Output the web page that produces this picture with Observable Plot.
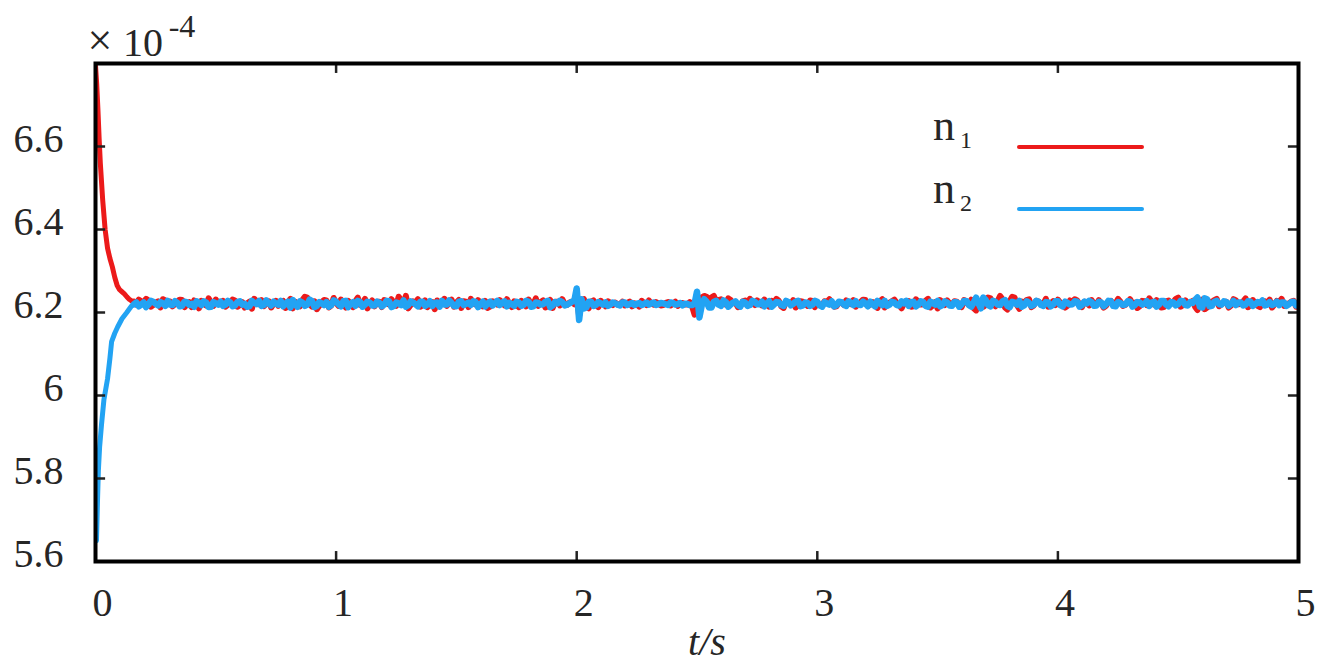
<!DOCTYPE html>
<html>
<head>
<meta charset="utf-8">
<script src="https://cdn.jsdelivr.net/npm/d3@7"></script>
<script src="https://cdn.jsdelivr.net/npm/@observablehq/plot@0.6"></script>
<style>
  html, body { margin: 0; padding: 0; background: #fff; }
  #chart { width: 1323px; height: 669px; }
</style>
</head>
<body>
<div id="chart"></div>
<script>
// ---- data (values in units of 1e-4) ----
const xTicks = [0, 1, 2, 3, 4, 5];
const xTickLabels = ["0", "1", "2", "3", "4", "5"];
const yTicks = [5.6, 5.8, 6.0, 6.2, 6.4, 6.6];
const yTickLabels = ["5.6", "5.8", "6", "6.2", "6.4", "6.6"];

// initial transient
const n1StartT = [0, 0.005, 0.01, 0.015, 0.02, 0.03, 0.04, 0.05, 0.06, 0.07, 0.08, 0.09, 0.10, 0.11, 0.12, 0.13, 0.14, 0.15];
const n1StartV = [6.795, 6.75, 6.69, 6.62, 6.56, 6.47, 6.40, 6.355, 6.33, 6.31, 6.285, 6.265, 6.255, 6.25, 6.245, 6.238, 6.232, 6.228];
const n2StartT = [0.004, 0.008, 0.012, 0.017, 0.025, 0.035, 0.05, 0.06, 0.067, 0.08, 0.092, 0.11, 0.13, 0.145, 0.15];
const n2StartV = [5.65, 5.74, 5.82, 5.875, 5.93, 5.99, 6.04, 6.09, 6.13, 6.15, 6.165, 6.185, 6.20, 6.212, 6.216];

// steady part: samples at t = 0.16, 0.18, ... 5.00 ("even") and t = 0.17, 0.19, ... 4.99 ("odd")
const evenStart = 0.16, oddStart = 0.17, sampleStep = 0.02;
const n1Even = [
  6.226, 6.231, 6.224, 6.229, 6.218, 6.227, 6.232, 6.221, 6.215, 6.226,
  6.230, 6.219, 6.213, 6.224, 6.228, 6.217, 6.225, 6.231, 6.222, 6.214,
  6.223, 6.229, 6.218, 6.212, 6.226, 6.233, 6.220, 6.215, 6.227, 6.221,
  6.216, 6.228, 6.224, 6.210, 6.219, 6.230, 6.236, 6.214, 6.208, 6.225,
  6.229, 6.217, 6.223, 6.231, 6.212, 6.220, 6.227, 6.218, 6.233, 6.222,
  6.215, 6.226, 6.230, 6.219, 6.224, 6.238, 6.221, 6.210, 6.227, 6.232,
  6.218, 6.213, 6.225, 6.229, 6.220, 6.216, 6.231, 6.224, 6.211, 6.226,
  6.233, 6.219, 6.222, 6.228, 6.214, 6.225, 6.230, 6.217, 6.221, 6.227,
  6.213, 6.224, 6.231, 6.220, 6.216, 6.229, 6.223, 6.211, 6.226, 6.232,
  6.218, 6.226, 6.245, 6.228, 6.214, 6.226, 6.219, 6.228, 6.215, 6.224,
  6.224, 6.220, 6.217, 6.226, 6.222, 6.214, 6.223, 6.229, 6.219, 6.222,
  6.218, 6.225, 6.221, 6.216, 6.223, 6.219, 6.214, 6.245, 6.236, 6.238,
  6.236, 6.226, 6.232, 6.219, 6.230, 6.224, 6.215, 6.229, 6.233, 6.218,
  6.225, 6.231, 6.214, 6.222, 6.228, 6.211, 6.224, 6.230, 6.219, 6.226,
  6.216, 6.228, 6.223, 6.218, 6.226, 6.221, 6.215, 6.224, 6.229, 6.220,
  6.214, 6.225, 6.230, 6.219, 6.223, 6.227, 6.212, 6.224, 6.231, 6.218,
  6.222, 6.228, 6.215, 6.226, 6.220, 6.233, 6.217, 6.210, 6.225, 6.229,
  6.219, 6.226, 6.213, 6.224, 6.231, 6.205, 6.227, 6.218, 6.234, 6.215,
  6.240, 6.212, 6.228, 6.236, 6.209, 6.224, 6.232, 6.217, 6.226, 6.221,
  6.214, 6.227, 6.231, 6.220, 6.216, 6.225, 6.229, 6.213, 6.224, 6.230,
  6.219, 6.223, 6.216, 6.228, 6.222, 6.226, 6.218, 6.232, 6.224, 6.215,
  6.227, 6.234, 6.219, 6.223, 6.213, 6.229, 6.225, 6.236, 6.218, 6.222,
  6.228, 6.206, 6.231, 6.212, 6.225, 6.233, 6.220, 6.226, 6.217, 6.229,
  6.221, 6.234, 6.218, 6.224, 6.213, 6.227, 6.231, 6.219, 6.225, 6.216,
  6.222, 6.228, 6.219
];
const n1Odd = [
  6.219, 6.227, 6.233, 6.214, 6.224, 6.212, 6.229, 6.226, 6.220, 6.231,
  6.213, 6.225, 6.229, 6.210, 6.221, 6.234, 6.216, 6.224, 6.228, 6.219,
  6.231, 6.214, 6.225, 6.222, 6.209, 6.227, 6.230, 6.223, 6.212, 6.228,
  6.224, 6.211, 6.233, 6.226, 6.215, 6.238, 6.220, 6.227, 6.216, 6.230,
  6.212, 6.235, 6.216, 6.224, 6.228, 6.213, 6.236, 6.222, 6.210, 6.229,
  6.226, 6.213, 6.223, 6.232, 6.216, 6.229, 6.240, 6.218, 6.223, 6.214,
  6.229, 6.224, 6.208, 6.220, 6.233, 6.225, 6.214, 6.230, 6.227, 6.213,
  6.222, 6.230, 6.215, 6.211, 6.227, 6.219, 6.224, 6.232, 6.213, 6.218,
  6.228, 6.215, 6.220, 6.234, 6.225, 6.212, 6.230, 6.226, 6.217, 6.221,
  6.224, 6.220, 6.192, 6.232, 6.210, 6.229, 6.213, 6.222, 6.227, 6.218,
  6.219, 6.226, 6.223, 6.215, 6.220, 6.228, 6.218, 6.221, 6.225, 6.217,
  6.223, 6.217, 6.226, 6.222, 6.219, 6.225, 6.195, 6.205, 6.240, 6.232,
  6.240, 6.230, 6.221, 6.234, 6.223, 6.213, 6.227, 6.220, 6.224, 6.229,
  6.217, 6.222, 6.228, 6.233, 6.215, 6.226, 6.219, 6.212, 6.227, 6.221,
  6.229, 6.213, 6.219, 6.227, 6.232, 6.214, 6.225, 6.218, 6.222, 6.230,
  6.220, 6.231, 6.216, 6.225, 6.211, 6.232, 6.218, 6.227, 6.223, 6.210,
  6.228, 6.214, 6.232, 6.219, 6.228, 6.212, 6.225, 6.230, 6.218, 6.221,
  6.227, 6.215, 6.230, 6.218, 6.210, 6.226, 6.214, 6.236, 6.221, 6.228,
  6.232, 6.207, 6.238, 6.218, 6.226, 6.230, 6.213, 6.228, 6.221, 6.233,
  6.222, 6.218, 6.224, 6.212, 6.229, 6.232, 6.219, 6.226, 6.217, 6.221,
  6.230, 6.212, 6.227, 6.220, 6.233, 6.216, 6.225, 6.221, 6.211, 6.228,
  6.218, 6.226, 6.230, 6.212, 6.227, 6.221, 6.233, 6.214, 6.229, 6.224,
  6.214, 6.224, 6.208, 6.226, 6.230, 6.215, 6.224, 6.212, 6.232, 6.220,
  6.227, 6.213, 6.230, 6.216, 6.225, 6.220, 6.212, 6.228, 6.233, 6.221,
  6.226, 6.214
];
const n2Even = [
  6.220, 6.215, 6.224, 6.219, 6.226, 6.217, 6.222, 6.228, 6.218, 6.223,
  6.216, 6.225, 6.221, 6.227, 6.218, 6.224, 6.214, 6.222, 6.226, 6.219,
  6.224, 6.217, 6.227, 6.221, 6.215, 6.223, 6.228, 6.218, 6.222, 6.226,
  6.219, 6.215, 6.226, 6.230, 6.214, 6.224, 6.219, 6.227, 6.216, 6.222,
  6.225, 6.218, 6.226, 6.215, 6.228, 6.221, 6.216, 6.225, 6.219, 6.224,
  6.217, 6.223, 6.219, 6.227, 6.216, 6.222, 6.229, 6.218, 6.224, 6.215,
  6.226, 6.220, 6.216, 6.224, 6.228, 6.219, 6.223, 6.215, 6.227, 6.221,
  6.218, 6.225, 6.220, 6.215, 6.226, 6.222, 6.218, 6.227, 6.223, 6.216,
  6.224, 6.219, 6.226, 6.215, 6.223, 6.220, 6.228, 6.217, 6.222, 6.225,
  6.219, 6.226, 6.258, 6.232, 6.212, 6.226, 6.218, 6.222, 6.224, 6.219,
  6.222, 6.217, 6.224, 6.220, 6.218, 6.223, 6.221, 6.219, 6.224, 6.220,
  6.222, 6.218, 6.223, 6.220, 6.217, 6.221, 6.218, 6.250, 6.218, 6.226,
  6.212, 6.228, 6.216, 6.225, 6.219, 6.227, 6.214, 6.224, 6.218, 6.226,
  6.220, 6.215, 6.227, 6.219, 6.224, 6.216, 6.225, 6.221, 6.228, 6.217,
  6.223, 6.219, 6.226, 6.214, 6.222, 6.227, 6.218, 6.225, 6.216, 6.223,
  6.227, 6.218, 6.222, 6.226, 6.215, 6.223, 6.228, 6.219, 6.224, 6.217,
  6.222, 6.216, 6.226, 6.219, 6.225, 6.214, 6.223, 6.228, 6.218, 6.224,
  6.216, 6.225, 6.220, 6.228, 6.214, 6.236, 6.210, 6.230, 6.215, 6.226,
  6.218, 6.230, 6.213, 6.224, 6.228, 6.217, 6.223, 6.219, 6.226, 6.216,
  6.224, 6.219, 6.227, 6.215, 6.223, 6.220, 6.226, 6.218, 6.222, 6.225,
  6.217, 6.224, 6.220, 6.227, 6.215, 6.223, 6.219, 6.226, 6.218, 6.224,
  6.221, 6.216, 6.226, 6.219, 6.228, 6.215, 6.224, 6.220, 6.227, 6.217,
  6.223, 6.236, 6.212, 6.232, 6.216, 6.228, 6.219, 6.225, 6.221, 6.218,
  6.224, 6.219, 6.226, 6.220, 6.223, 6.217, 6.225, 6.221, 6.218, 6.224,
  6.220, 6.226, 6.222
];
const n2Odd = [
  6.224, 6.219, 6.213, 6.228, 6.221, 6.225, 6.216, 6.219, 6.227, 6.215,
  6.226, 6.218, 6.214, 6.223, 6.227, 6.213, 6.225, 6.219, 6.216, 6.228,
  6.215, 6.225, 6.219, 6.214, 6.228, 6.220, 6.216, 6.229, 6.217, 6.221,
  6.228, 6.222, 6.212, 6.219, 6.227, 6.216, 6.231, 6.213, 6.225, 6.218,
  6.214, 6.229, 6.220, 6.227, 6.213, 6.225, 6.228, 6.214, 6.226, 6.217,
  6.226, 6.215, 6.228, 6.213, 6.224, 6.218, 6.214, 6.227, 6.220, 6.226,
  6.216, 6.227, 6.223, 6.214, 6.219, 6.229, 6.216, 6.226, 6.218, 6.224,
  6.227, 6.213, 6.226, 6.222, 6.217, 6.228, 6.224, 6.215, 6.220, 6.226,
  6.216, 6.228, 6.214, 6.224, 6.219, 6.226, 6.213, 6.225, 6.228, 6.217,
  6.222, 6.228, 6.182, 6.210, 6.226, 6.216, 6.225, 6.219, 6.216, 6.224,
  6.219, 6.224, 6.218, 6.223, 6.221, 6.218, 6.224, 6.222, 6.218, 6.223,
  6.220, 6.224, 6.219, 6.223, 6.221, 6.218, 6.222, 6.188, 6.232, 6.212,
  6.226, 6.219, 6.229, 6.214, 6.224, 6.218, 6.226, 6.216, 6.228, 6.220,
  6.226, 6.222, 6.214, 6.225, 6.218, 6.228, 6.217, 6.226, 6.215, 6.224,
  6.216, 6.228, 6.217, 6.225, 6.219, 6.215, 6.226, 6.219, 6.227, 6.218,
  6.219, 6.226, 6.215, 6.220, 6.228, 6.218, 6.216, 6.226, 6.218, 6.227,
  6.228, 6.225, 6.215, 6.227, 6.216, 6.226, 6.219, 6.215, 6.227, 6.217,
  6.225, 6.214, 6.228, 6.218, 6.224, 6.222, 6.236, 6.218, 6.228, 6.219,
  6.227, 6.216, 6.226, 6.219, 6.214, 6.227, 6.216, 6.228, 6.218, 6.225,
  6.215, 6.227, 6.218, 6.226, 6.219, 6.227, 6.214, 6.226, 6.228, 6.216,
  6.226, 6.215, 6.228, 6.216, 6.225, 6.218, 6.227, 6.214, 6.225, 6.219,
  6.227, 6.224, 6.214, 6.228, 6.219, 6.225, 6.217, 6.228, 6.218, 6.225,
  6.230, 6.214, 6.234, 6.215, 6.226, 6.220, 6.227, 6.216, 6.228, 6.224,
  6.217, 6.227, 6.216, 6.225, 6.229, 6.219, 6.218, 6.226, 6.224, 6.216,
  6.225, 6.217
];

const colorN1 = "#ec1a1a";
const colorN2 = "#22a3f3";
const legendItems = [
  {name: "n", sub: "1", color: colorN1},
  {name: "n", sub: "2", color: colorN2}
];

// ---- build tables ----
function series(startT, startV, even, odd) {
  const rows = startT.map((t, i) => ({t, v: startV[i]}));
  even.forEach((v, i) => rows.push({t: +(evenStart + i * sampleStep).toFixed(4), v}));
  odd.forEach((v, i) => rows.push({t: +(oddStart + i * sampleStep).toFixed(4), v}));
  return rows.sort((a, b) => a.t - b.t);
}
const n1 = series(n1StartT, n1StartV, n1Even, n1Odd);
const n2 = series(n2StartT, n2StartV, n2Even, n2Odd);
const n1Head = n1.filter(d => d.t <= evenStart), n1Tail = n1.filter(d => d.t >= evenStart);
const n2Head = n2.filter(d => d.t <= evenStart), n2Tail = n2.filter(d => d.t >= evenStart);

const yDomain = [5.6, 6.8], xDomain = [0, 5];
const innerTicksX = xTicks.slice(1, -1);
const tickLenX = 0.042, tickLenY = 0.024;
const font = "'Liberation Serif', 'DejaVu Serif', serif";

const plot = Plot.plot({
  width: 1323,
  height: 669,
  marginLeft: 95,
  marginRight: 25,
  marginTop: 63,
  marginBottom: 108,
  style: {fontFamily: font, background: "#fff", color: "#262626"},
  x: {domain: xDomain},
  y: {domain: yDomain},
  marks: [
    Plot.line(n1Head, {x: "t", y: "v", stroke: colorN1, strokeWidth: 5, strokeLinejoin: "round", strokeLinecap: "round", clip: true}),
    Plot.line(n1Tail, {x: "t", y: "v", stroke: colorN1, strokeWidth: 6, strokeLinejoin: "round", clip: true}),
    Plot.line(n2Head, {x: "t", y: "v", stroke: colorN2, strokeWidth: 5, strokeLinejoin: "round", strokeLinecap: "round", clip: true}),
    Plot.line(n2Tail, {x: "t", y: "v", stroke: colorN2, strokeWidth: 6.5, strokeLinejoin: "round", clip: true}),
    // inward ticks
    Plot.ruleX(innerTicksX, {y1: yDomain[0], y2: yDomain[0] + tickLenY, stroke: "#222", strokeWidth: 2.5}),
    Plot.ruleX(innerTicksX, {y1: yDomain[1], y2: yDomain[1] - tickLenY, stroke: "#222", strokeWidth: 2.5}),
    Plot.ruleY(yTicks.slice(1), {x1: xDomain[0], x2: xDomain[0] + tickLenX, stroke: "#222", strokeWidth: 2.5}),
    Plot.ruleY(yTicks.slice(1), {x1: xDomain[1], x2: xDomain[1] - tickLenX, stroke: "#222", strokeWidth: 2.5}),
    Plot.frame({stroke: "#000", strokeWidth: 4}),
    Plot.axisX({ticks: xTicks, tickSize: 0, tickPadding: 26, fontSize: 40, dx: 7, fontFamily: font,
      tickFormat: d => xTickLabels[xTicks.indexOf(d)], label: null}),
    Plot.axisY({ticks: yTicks, tickSize: 0, tickPadding: 32, fontSize: 40, dy: -7, fontFamily: font,
      tickFormat: d => yTickLabels[yTicks.indexOf(d)], label: null})
  ]
});
document.getElementById("chart").appendChild(plot);

// ---- annotations: scale factor, axis title, legend ----
const svg = d3.select(plot);
const ann = svg.append("g").style("font-family", font).attr("fill", "#262626");
ann.append("text").attr("x", 100).attr("y", 55).attr("font-size", 44).text("×");
ann.append("text").attr("x", 143).attr("y", 56).attr("font-size", 40).text("10");
ann.append("text").attr("x", 182).attr("y", 37).attr("font-size", 32).text("-4");
ann.append("text").attr("x", 707).attr("y", 655).attr("font-size", 40)
  .attr("font-style", "italic").attr("text-anchor", "middle").text("t/s");

const leg = svg.append("g").style("font-family", font).attr("fill", "#262626");
legendItems.forEach((d, i) => {
  const base = 140 + i * 63;
  const g = leg.append("g");
  g.append("text").attr("x", 944).attr("y", base).attr("font-size", 44).text(d.name);
  g.append("text").attr("x", 966).attr("y", base + 8).attr("font-size", 24).text(d.sub);
  g.append("line").attr("x1", 1019).attr("x2", 1142).attr("y1", base + 7 - i).attr("y2", base + 7 - i)
    .attr("stroke", d.color).attr("stroke-width", 4).attr("stroke-linecap", "round");
});
</script>
</body>
</html>
